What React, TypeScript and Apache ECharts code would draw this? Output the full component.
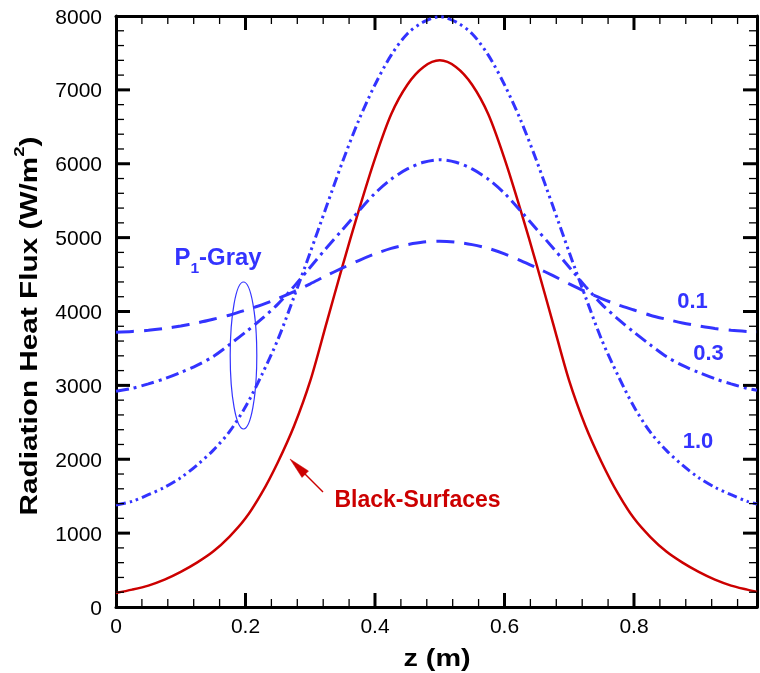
import React, { useEffect, useRef } from "react";
import * as echarts from "echarts";

// z positions (m)
const zValues = [
  0, 0.025, 0.05, 0.075, 0.1, 0.125, 0.15, 0.175, 0.2, 0.225, 0.25, 0.275, 0.3, 0.325, 0.35, 0.375, 0.4, 0.425, 0.45, 0.475,
  0.5, 0.525, 0.55, 0.575, 0.6, 0.625, 0.65, 0.675, 0.7, 0.725, 0.75, 0.775, 0.8, 0.825, 0.85, 0.875, 0.9, 0.925, 0.95, 0.975, 0.99,
];

// Black-Surfaces (red solid)
const blackSurfaces = [
  190, 235, 290, 370, 475, 600, 750, 950, 1200, 1540, 1960, 2450, 3060, 3840, 4620, 5370, 6070, 6670, 7070, 7310,
  7400, 7310, 7070, 6670, 6070, 5370, 4620, 3840, 3060, 2450, 1960, 1540, 1200, 950, 750, 600, 475, 370, 290, 235, 205,
];

// P1-Gray, 0.1 (dashed)
const gray01 = [
  3720, 3730, 3745, 3770, 3805, 3845, 3895, 3950, 4020, 4090, 4175, 4270, 4375, 4485, 4590, 4690, 4780, 4855, 4905, 4940,
  4952, 4940, 4905, 4855, 4780, 4690, 4590, 4485, 4375, 4270, 4175, 4090, 4020, 3950, 3895, 3845, 3805, 3770, 3745, 3730, 3725,
];

// P1-Gray, 0.3 (dash-dot)
const gray03 = [
  2920, 2960, 3020, 3090, 3175, 3270, 3390, 3550, 3720, 3900, 4100, 4340, 4600, 4860, 5110, 5360, 5600, 5790, 5930, 6020,
  6055, 6020, 5930, 5790, 5600, 5360, 5110, 4860, 4600, 4340, 4100, 3900, 3720, 3550, 3390, 3270, 3175, 3090, 3020, 2960, 2935,
];

// P1-Gray, 1.0 (dash-dot-dot)
const gray10 = [
  1380, 1430, 1520, 1620, 1750, 1920, 2120, 2370, 2710, 3140, 3620, 4200, 4800, 5420, 6030, 6590, 7070, 7470, 7760, 7920,
  7990, 7920, 7760, 7470, 7070, 6590, 6030, 5420, 4800, 4200, 3620, 3140, 2710, 2370, 2120, 1920, 1750, 1620, 1520, 1430, 1395,
];

// tick positions
const xMajorTicks = [0.2, 0.4, 0.6, 0.8];
const xMinorTicks = [
  0.04, 0.08, 0.12, 0.16, 0.24, 0.28, 0.32, 0.36, 0.44, 0.48, 0.52, 0.56, 0.64, 0.68, 0.72, 0.76, 0.84, 0.88, 0.92, 0.96,
];
const yMajorTicks = [1000, 2000, 3000, 4000, 5000, 6000, 7000];
const yMinorTicks = [
  200, 400, 600, 800, 1200, 1400, 1600, 1800, 2200, 2400, 2600, 2800, 3200, 3400, 3600, 3800, 4200, 4400, 4600, 4800,
  5200, 5400, 5600, 5800, 6200, 6400, 6600, 6800, 7200, 7400, 7600, 7800,
];

const X_MIN = 0;
const X_MAX = 0.99;
const Y_MIN = 0;
const Y_MAX = 8000;

const FONT = "'Liberation Sans', Arial, Helvetica, sans-serif";
const BLUE = "#3333ff";
const RED = "#cc0000";

function pairs(vals: number[]) {
  return zValues.map((z, i) => [z, vals[i]]);
}

function axisBase(min: number, max: number, interval: number): any {
  return {
    type: "value",
    min,
    max,
    interval,
    splitLine: { show: false },
    axisLine: { show: true, onZero: false, lineStyle: { color: "#000", width: 3 } },
    axisTick: { show: false },
    minorTick: { show: false },
    minorSplitLine: { show: false },
  };
}

const boxStyle: React.CSSProperties = { position: "fixed", left: 0, top: 0, width: 760, height: 673 };

export default function App() {
  const ref = useRef<HTMLDivElement>(null);
  const overlayRef = useRef<HTMLDivElement>(null);

  useEffect(() => {
    if (!ref.current || !overlayRef.current) return;
    const chart = echarts.init(ref.current, undefined, { renderer: "svg" });
    const overlay = echarts.init(overlayRef.current, undefined, { renderer: "svg" });

    const line = (data: number[], color: string, width: number, type: any) => ({
      type: "line",
      data: pairs(data),
      symbol: "none",
      smooth: 0.3,
      lineStyle: { color, width, type },
      xAxisIndex: 0,
      yAxisIndex: 0,
    });

    const xBottom = axisBase(X_MIN, X_MAX, 0.2);
    xBottom.position = "bottom";
    xBottom.axisLabel = { show: true, fontFamily: FONT, fontSize: 21, color: "#000", margin: 8, showMaxLabel: false };
    const xTop = axisBase(X_MIN, X_MAX, 0.2);
    xTop.position = "top";
    xTop.axisLabel = { show: false };

    const yLeft = axisBase(Y_MIN, Y_MAX, 1000);
    yLeft.position = "left";
    yLeft.axisLabel = { show: true, fontFamily: FONT, fontSize: 21, color: "#000", margin: 14, formatter: (v: number) => String(v) };
    const yRight = axisBase(Y_MIN, Y_MAX, 1000);
    yRight.position = "right";
    yRight.axisLabel = { show: false };

    chart.setOption({
      animation: false,
      grid: [{ left: 116, top: 16, width: 641, height: 591 }],
      xAxis: [xBottom, xTop],
      yAxis: [yLeft, yRight],
      series: [
        line(blackSurfaces, RED, 2.5, "solid"),
        line(gray01, BLUE, 3, [18, 10]),
        line(gray03, BLUE, 3, [13, 5, 3, 5]),
        line(gray10, BLUE, 3, [10, 4, 2.5, 4, 2.5, 4]),
      ],
    });

    // tick marks positioned through the chart's own scales
    const toX = (v: number) => chart.convertToPixel({ xAxisIndex: 0 }, v) as unknown as number;
    const toY = (v: number) => chart.convertToPixel({ yAxisIndex: 0 }, v) as unknown as number;
    const gLeft = toX(X_MIN);
    const gRight = toX(X_MAX);
    const gTop = toY(Y_MAX);
    const gBottom = toY(Y_MIN);

    const tickEls: any[] = [];
    const addX = (vals: number[], len: number, w: number) => {
      vals.forEach((v) => {
        const px = toX(v);
        const style = { stroke: "#000", lineWidth: w };
        tickEls.push({ type: "line", shape: { x1: px, y1: gBottom, x2: px, y2: gBottom - len }, style });
        tickEls.push({ type: "line", shape: { x1: px, y1: gTop, x2: px, y2: gTop + len }, style });
      });
    };
    const addY = (vals: number[], len: number, w: number) => {
      vals.forEach((v) => {
        const py = toY(v);
        const style = { stroke: "#000", lineWidth: w };
        tickEls.push({ type: "line", shape: { x1: gLeft, y1: py, x2: gLeft + len, y2: py }, style });
        tickEls.push({ type: "line", shape: { x1: gRight, y1: py, x2: gRight - len, y2: py }, style });
      });
    };
    addX(xMajorTicks, 14, 3);
    addX(xMinorTicks, 8, 1.3);
    addY(yMajorTicks, 14, 3);
    addY(yMinorTicks, 8, 1.3);

    overlay.setOption({
      animation: false,
      graphic: [
        ...tickEls,
        {
          type: "text",
          x: 437,
          y: 658,
          scaleX: 1.2,
          style: { text: "z (m)", fontFamily: FONT, fontSize: 24, fontWeight: "bold", fill: "#000", align: "center", verticalAlign: "middle" },
        },
        {
          type: "text",
          x: 29,
          y: 326,
          rotation: Math.PI / 2,
          scaleX: 1.24,
          style: {
            text: "{a|Radiation Heat Flux (W/m}{s|2}{a|)}",
            align: "center",
            verticalAlign: "middle",
            fill: "#000",
            rich: {
              a: { fontFamily: FONT, fontSize: 24, fontWeight: "bold", fill: "#000", lineHeight: 34, verticalAlign: "middle" },
              s: { fontFamily: FONT, fontSize: 15, fontWeight: "bold", fill: "#000", lineHeight: 34, verticalAlign: "top" },
            },
          },
        },
        {
          type: "text",
          x: 218,
          y: 257,
          scaleX: 1.04,
          style: {
            text: "{a|P}{s|1}{a|-Gray}",
            align: "center",
            verticalAlign: "middle",
            fill: BLUE,
            rich: {
              a: { fontFamily: FONT, fontSize: 23, fontWeight: "bold", fill: BLUE, lineHeight: 36, verticalAlign: "middle" },
              s: { fontFamily: FONT, fontSize: 15, fontWeight: "bold", fill: BLUE, lineHeight: 36, verticalAlign: "bottom" },
            },
          },
        },
        {
          type: "ellipse",
          shape: { cx: 243.5, cy: 355.5, rx: 13.3, ry: 73.5 },
          style: { fill: "none", stroke: BLUE, lineWidth: 1.2 },
        },
        {
          type: "text",
          x: 692.5,
          y: 300.5,
          style: { text: "0.1", fontFamily: FONT, fontSize: 22, fontWeight: "bold", fill: BLUE, align: "center", verticalAlign: "middle" },
        },
        {
          type: "text",
          x: 708.5,
          y: 352,
          style: { text: "0.3", fontFamily: FONT, fontSize: 22, fontWeight: "bold", fill: BLUE, align: "center", verticalAlign: "middle" },
        },
        {
          type: "text",
          x: 698,
          y: 440,
          style: { text: "1.0", fontFamily: FONT, fontSize: 22, fontWeight: "bold", fill: BLUE, align: "center", verticalAlign: "middle" },
        },
        {
          type: "text",
          x: 417.5,
          y: 498.5,
          style: { text: "Black-Surfaces", fontFamily: FONT, fontSize: 23, fontWeight: "bold", fill: RED, align: "center", verticalAlign: "middle" },
        },
        {
          type: "line",
          shape: { x1: 323, y1: 492, x2: 299, y2: 468 },
          style: { stroke: RED, lineWidth: 1.5 },
        },
        {
          type: "polygon",
          shape: { points: [[290, 459], [308.5, 471], [302, 477.5]] },
          style: { fill: RED, stroke: RED, lineWidth: 0.5 },
        },
      ],
    });

    return () => {
      chart.dispose();
      overlay.dispose();
    };
  }, []);

  return (
    <>
      <div ref={ref} style={boxStyle} />
      <div ref={overlayRef} style={{ ...boxStyle, pointerEvents: "none" }} />
    </>
  );
}
